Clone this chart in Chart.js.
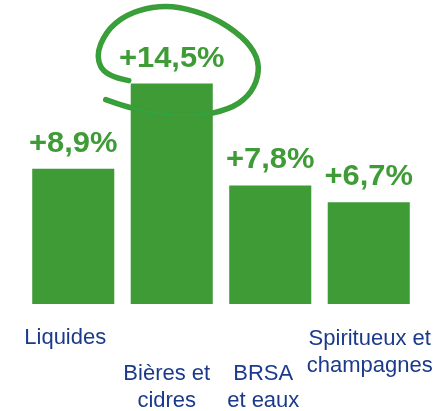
<!DOCTYPE html>
<html>
<head>
<meta charset="utf-8">
<script src="https://cdn.jsdelivr.net/npm/chart.js@4.4.1/dist/chart.umd.min.js"></script>
<style>
    html, body { margin: 0; padding: 0; background: #ffffff; }
    canvas { display: block; }
</style>
</head>
<body>
<canvas id="growthChart" width="444" height="411"></canvas>
<script>
// Data
const categories = [
    ['Liquides'],
    ['Bières et', 'cidres'],
    ['BRSA', 'et eaux'],
    ['Spiritueux et', 'champagnes']
];
const growthValues = [8.9, 14.5, 7.8, 6.7];
const growthLabels = ['+8,9%', '+14,5%', '+7,8%', '+6,7%'];
const highlightIndex = 1;

// Layout of the staggered category labels (style only)
const labelRowBaseline = [344, 380, 380, 345];
const labelShiftX = [-8, -5, -7, 1];

const barGreen = '#3e9b36';
const labelBlue = '#1b3a8c';

// Value labels above each bar
const valueLabelPlugin = {
    id: 'valueLabels',
    afterDatasetsDraw(chart) {
        const ctx = chart.ctx;
        const meta = chart.getDatasetMeta(0);
        ctx.save();
        ctx.fillStyle = barGreen;
        ctx.font = 'bold 30px "Liberation Sans", Arial, sans-serif';
        ctx.textAlign = 'center';
        ctx.textBaseline = 'alphabetic';
        meta.data.forEach((bar, i) => {
            ctx.save();
            ctx.translate(bar.x, bar.y - 17);
            ctx.scale(1.03, 1);
            ctx.fillText(growthLabels[i], 0, 0);
            ctx.restore();
        });
        ctx.restore();
    }
};

// Staggered category names under the bars
const categoryLabelPlugin = {
    id: 'categoryLabels',
    afterDraw(chart) {
        const ctx = chart.ctx;
        const xScale = chart.scales.x;
        ctx.save();
        ctx.fillStyle = labelBlue;
        ctx.font = '22px "Liberation Sans", Arial, sans-serif';
        ctx.textAlign = 'center';
        ctx.textBaseline = 'alphabetic';
        categories.forEach((lines, i) => {
            const x = xScale.getPixelForTick(i) + labelShiftX[i];
            lines.forEach((line, j) => {
                ctx.fillText(line, x, labelRowBaseline[i] + j * 27);
            });
        });
        ctx.restore();
    }
};

// Hand-drawn loop around the highlighted value
const highlightLoopPlugin = {
    id: 'highlightLoop',
    afterDraw(chart) {
        const bar = chart.getDatasetMeta(0).data[highlightIndex];
        if (!bar) return;
        const ctx = chart.ctx;
        const pts = [
            [-43, -3], [-66, -7], [-76, -27], [-66, -52], [-46, -69],
            [-19, -77], [7, -77], [41, -67], [71, -47], [86, -27],
            [87, -7], [77, 13], [57, 26], [24, 33], [-13, 31],
            [-46, 23], [-66, 16]
        ].map(p => [bar.x + p[0], bar.y + p[1]]);

        const tracePath = () => {
            ctx.beginPath();
            ctx.moveTo(pts[0][0], pts[0][1]);
            for (let i = 1; i < pts.length - 1; i++) {
                const mx = (pts[i][0] + pts[i + 1][0]) / 2;
                const my = (pts[i][1] + pts[i + 1][1]) / 2;
                ctx.quadraticCurveTo(pts[i][0], pts[i][1], mx, my);
            }
            const last = pts[pts.length - 1];
            ctx.lineTo(last[0], last[1]);
        };

        ctx.save();
        ctx.lineCap = 'round';
        ctx.lineJoin = 'round';
        ctx.strokeStyle = barGreen;
        ctx.lineWidth = 5.5;
        tracePath();
        ctx.stroke();
        ctx.strokeStyle = '#22ad4a';
        ctx.lineWidth = 1;
        tracePath();
        ctx.stroke();
        ctx.restore();
    }
};

const ctx = document.getElementById('growthChart').getContext('2d');
new Chart(ctx, {
    type: 'bar',
    data: {
        labels: categories,
        datasets: [{
            data: growthValues,
            backgroundColor: barGreen,
            borderWidth: 0,
            barPercentage: 0.833,
            categoryPercentage: 1.0
        }]
    },
    options: {
        responsive: false,
        animation: false,
        layout: {
            padding: { left: 24, right: 26, top: 0, bottom: 107 }
        },
        scales: {
            x: {
                display: false
            },
            y: {
                display: false,
                min: 0,
                max: 20
            }
        },
        plugins: {
            legend: { display: false },
            tooltip: { enabled: false }
        }
    },
    plugins: [valueLabelPlugin, categoryLabelPlugin, highlightLoopPlugin]
});
</script>
</body>
</html>
